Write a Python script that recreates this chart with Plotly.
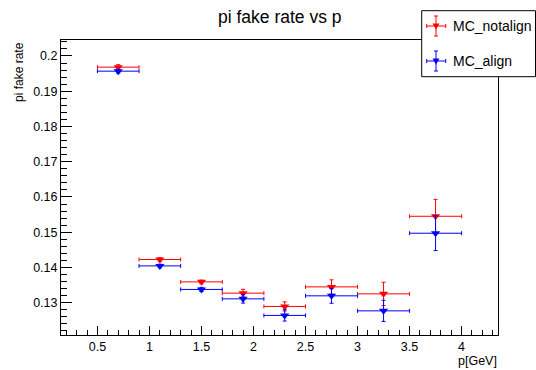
import plotly.graph_objects as go

# Momentum bins (bin centre and half width, GeV)
p_center = [0.7, 1.1, 1.5, 1.9, 2.3, 2.75, 3.25, 3.75]
p_halfwidth = [0.2, 0.2, 0.2, 0.2, 0.2, 0.25, 0.25, 0.25]

# Pion fake rate without alignment
rate_notalign = [0.19683, 0.14227, 0.13592, 0.13272, 0.12895, 0.1345, 0.13252, 0.15453]
err_notalign = [0.0007, 0.0005, 0.0005, 0.0011, 0.0013, 0.0020, 0.0033, 0.0048]

# Pion fake rate with alignment
rate_align = [0.19569, 0.14045, 0.13377, 0.1311, 0.1264, 0.13196, 0.1277, 0.14972]
err_align = [0.0005, 0.0005, 0.0006, 0.0012, 0.0016, 0.0021, 0.0030, 0.0049]

series = [
    ("MC_notalign", rate_notalign, err_notalign, "#ff0000"),
    ("MC_align", rate_align, err_align, "#0000ff"),
]

W, H = 536, 370
PL, PR, PT, PB = 61, 498, 40, 335
FONT = "Liberation Sans, Arial, Helvetica, sans-serif"


def xp(px):
    return (px - PL) / (PR - PL)


def yp(py):
    return (PB - py) / (PB - PT)


fig = go.Figure()
for name, vals, errs, color in series:
    fig.add_trace(go.Scatter(
        x=p_center, y=vals, mode="markers", name=name,
        marker=dict(symbol="triangle-down", size=8, color=color, line=dict(width=0)),
        error_x=dict(type="data", array=p_halfwidth, visible=True, color=color,
                     thickness=1, width=2),
        error_y=dict(type="data", array=errs, visible=True, color=color,
                     thickness=1, width=2),
        showlegend=False, cliponaxis=True,
    ))

axis_common = dict(
    showline=True, linecolor="black", linewidth=1, mirror=True,
    ticks="inside", tickcolor="black", tickwidth=1,
    showgrid=False, zeroline=False,
    tickfont=dict(family=FONT, size=12.5, color="black"),
)

fig.update_xaxes(
    range=[0.15, 4.35], tick0=0, dtick=0.5, ticklen=9,
    minor=dict(dtick=0.1, tick0=0, ticks="inside", ticklen=5, tickcolor="black", showgrid=False),
    **axis_common,
)
fig.update_yaxes(
    range=[0.12085, 0.20453], tick0=0, dtick=0.01, ticklen=11,
    minor=dict(dtick=0.002, tick0=0, ticks="inside", ticklen=6, tickcolor="black", showgrid=False),
    **axis_common,
)

annotations = [
    dict(text="pi fake rate vs p", xref="paper", yref="paper", x=0.5, y=yp(17.5),
         xanchor="center", yanchor="middle", showarrow=False,
         font=dict(family=FONT, size=17.5, color="black")),
    dict(text="pi fake rate", xref="paper", yref="paper", x=xp(19), y=yp(40),
         xanchor="center", yanchor="top", textangle=-90, showarrow=False,
         font=dict(family=FONT, size=12, color="black")),
    dict(text="p[GeV]", xref="paper", yref="paper", x=xp(499), y=yp(361),
         xanchor="right", yanchor="middle", showarrow=False,
         font=dict(family=FONT, size=12.5, color="black")),
]

# Legend box drawn by hand so that each entry shows the error-bar cross
shapes = [dict(type="rect", xref="paper", yref="paper",
               x0=xp(421.7), x1=xp(535.5), y0=yp(76.7), y1=yp(10.7),
               line=dict(color="black", width=1), fillcolor="white", layer="above")]
entry_y = [26, 61]
sx, sx0, sx1 = 436, 426.7, 445.7
for (name, vals, errs, color), cy in zip(series, entry_y):
    seg = dict(type="line", xref="paper", yref="paper", line=dict(color=color, width=1), layer="above")
    shapes.append(dict(seg, x0=xp(sx0), x1=xp(sx1), y0=yp(cy), y1=yp(cy)))
    shapes.append(dict(seg, x0=xp(sx), x1=xp(sx), y0=yp(cy - 10), y1=yp(cy + 10)))
    shapes.append(dict(seg, x0=xp(sx - 2), x1=xp(sx + 2), y0=yp(cy - 10), y1=yp(cy - 10)))
    shapes.append(dict(seg, x0=xp(sx - 2), x1=xp(sx + 2), y0=yp(cy + 10), y1=yp(cy + 10)))
    shapes.append(dict(seg, x0=xp(sx0), x1=xp(sx0), y0=yp(cy - 2), y1=yp(cy + 2)))
    shapes.append(dict(seg, x0=xp(sx1), x1=xp(sx1), y0=yp(cy - 2), y1=yp(cy + 2)))
    tri = "M {:.5f},{:.5f} L {:.5f},{:.5f} L {:.5f},{:.5f} Z".format(
        xp(sx - 3.5), yp(cy - 2.5), xp(sx + 3.5), yp(cy - 2.5), xp(sx), yp(cy + 3.5))
    shapes.append(dict(type="path", xref="paper", yref="paper", path=tri,
                       fillcolor=color, line=dict(width=0), layer="above"))
    annotations.append(dict(text=name, xref="paper", yref="paper", x=xp(450.7), y=yp(cy),
                            xanchor="left", yanchor="middle", showarrow=False,
                            font=dict(family=FONT, size=14, color="black")))

fig.update_layout(
    width=W, height=H,
    margin=dict(l=PL, r=W - PR, t=PT, b=H - PB, pad=0),
    paper_bgcolor="white", plot_bgcolor="white",
    showlegend=False,
    annotations=annotations, shapes=shapes,
)

fig.write_html("out.html")
